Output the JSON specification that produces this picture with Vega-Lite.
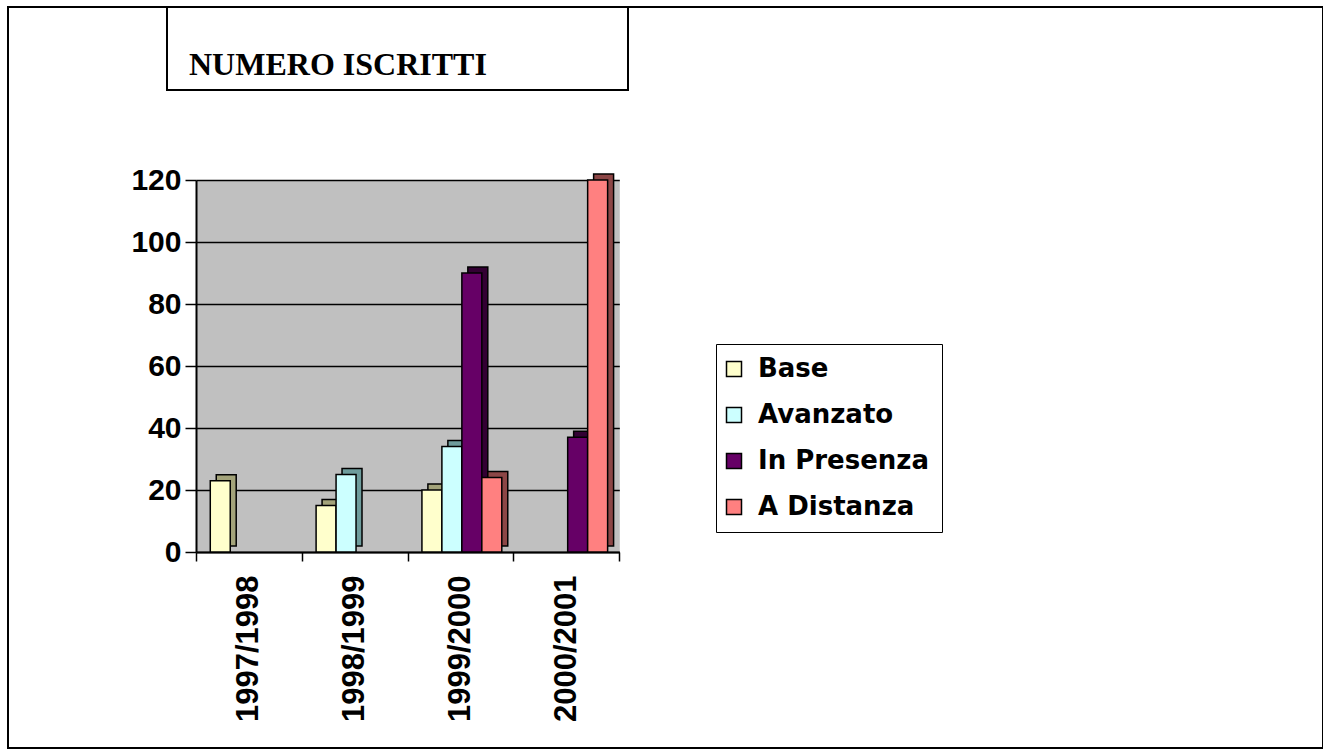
{
  "$schema": "https://vega.github.io/schema/vega-lite/v6.json",
  "autosize": {"type": "pad"},
  "padding": {"left": -9, "top": 6, "right": 0, "bottom": 0},
  "background": "white",
  "config": {"font": "Liberation Sans"},
  "columns": 2,
  "align": "none",
  "spacing": -1158,
  "concat": [
    {
      "width": 1315,
      "height": 741,
      "view": {"stroke": "black", "strokeWidth": 2, "fill": "white"},
      "data": {
        "values": [
          {"year": "1997/1998", "series": "Base", "value": 23},
          {"year": "1998/1999", "series": "Base", "value": 15},
          {"year": "1998/1999", "series": "Avanzato", "value": 25},
          {"year": "1999/2000", "series": "Base", "value": 20},
          {"year": "1999/2000", "series": "Avanzato", "value": 34},
          {"year": "1999/2000", "series": "In Presenza", "value": 90},
          {"year": "1999/2000", "series": "A Distanza", "value": 24},
          {"year": "2000/2001", "series": "In Presenza", "value": 37},
          {"year": "2000/2001", "series": "A Distanza", "value": 120}
        ]
      },
      "encoding": {
        "x": {
          "field": "year",
          "type": "nominal",
          "scale": {"range": [188, 611.3], "paddingInner": 0, "paddingOuter": 0},
          "axis": {
            "orient": "bottom",
            "offset": -196,
            "labelAngle": -90,
            "labelFont": "Liberation Sans",
            "labelFontWeight": "bold",
            "labelFontSize": 31,
            "labelColor": "black",
            "labelPadding": 14,
            "labelLimit": 400,
            "tickBand": "extent",
            "tickSize": 9,
            "tickColor": "black",
            "tickWidth": 1.5,
            "domainColor": "black",
            "domainWidth": 2,
            "grid": false,
            "title": null
          }
        }
      },
      "layer": [
        {
          "mark": {"type": "bar", "stroke": "black", "strokeWidth": 1.5, "yOffset": -6, "y2Offset": -6},
          "encoding": {
            "xOffset": {
              "field": "series",
              "type": "nominal",
              "scale": {
                "domain": ["Base", "Avanzato", "In Presenza", "A Distanza"],
                "paddingInner": 0,
                "paddingOuter": 0.65,
                "align": 0.78
              }
            },
            "y": {
              "field": "value",
              "type": "quantitative",
              "scale": {"domain": [0, 120], "range": [545, 173]},
              "axis": {
                "orient": "left",
                "offset": -188,
                "values": [60],
                "grid": true,
                "gridColor": "#C0C0C0",
                "gridWidth": 372,
                "gridOpacity": 1,
                "labels": false,
                "ticks": false,
                "domain": false,
                "title": null
              }
            },
            "fill": {
              "field": "series",
              "type": "nominal",
              "scale": {
                "domain": ["Base", "Avanzato", "In Presenza", "A Distanza"],
                "range": ["#A3A37A", "#6E9C9C", "#330033", "#8C4646"]
              },
              "legend": null
            }
          }
        },
        {
          "mark": {"type": "bar", "stroke": "black", "strokeWidth": 1.5},
          "encoding": {
            "xOffset": {
              "field": "series",
              "type": "nominal",
              "scale": {
                "domain": ["Base", "Avanzato", "In Presenza", "A Distanza"],
                "paddingInner": 0,
                "paddingOuter": 0.65,
                "align": 0.55
              }
            },
            "y": {
              "field": "value",
              "type": "quantitative",
              "scale": {"domain": [0, 120], "range": [545, 173]},
              "axis": {
                "orient": "left",
                "offset": -188,
                "values": [0, 20, 40, 60, 80, 100, 120],
                "grid": true,
                "gridColor": "black",
                "gridWidth": 1.5,
                "gridOpacity": 1,
                "domainColor": "black",
                "domainWidth": 2,
                "tickColor": "black",
                "tickSize": 11,
                "tickWidth": 1.5,
                "labelFont": "Liberation Sans",
                "labelFontWeight": "bold",
                "labelFontSize": 30,
                "labelColor": "black",
                "labelPadding": 4,
                "title": null
              }
            },
            "fill": {
              "field": "series",
              "type": "nominal",
              "scale": {
                "domain": ["Base", "Avanzato", "In Presenza", "A Distanza"],
                "range": ["#FFFFCC", "#CCFFFF", "#660066", "#FF8080"]
              },
              "legend": {
                "orient": "none",
                "legendX": 708,
                "legendY": 337,
                "title": null,
                "symbolType": "square",
                "symbolSize": 225,
                "symbolOffset": -7,
                "symbolStrokeColor": "black",
                "symbolStrokeWidth": 1.5,
                "labelFont": "DejaVu Sans",
                "labelFontWeight": "bold",
                "labelFontSize": 26,
                "labelColor": "black",
                "labelOffset": 11,
                "labelLimit": 400,
                "rowPadding": 20,
                "padding": 12,
                "strokeColor": "black",
                "fillColor": "white"
              }
            }
          }
        }
      ],
      "resolve": {
        "axis": {"y": "independent"},
        "scale": {"xOffset": "independent", "fill": "independent"},
        "legend": {"fill": "independent"}
      }
    },
    {
      "width": 461,
      "height": 83,
      "view": {"stroke": "black", "strokeWidth": 2, "fill": "white"},
      "data": {"values": [{"label": "NUMERO ISCRITTI"}]},
      "mark": {
        "type": "text",
        "align": "left",
        "baseline": "alphabetic",
        "font": "Liberation Serif",
        "fontWeight": "bold",
        "fontSize": 32,
        "color": "black"
      },
      "encoding": {
        "text": {"field": "label"},
        "x": {"value": 22},
        "y": {"value": 68}
      }
    }
  ]
}
